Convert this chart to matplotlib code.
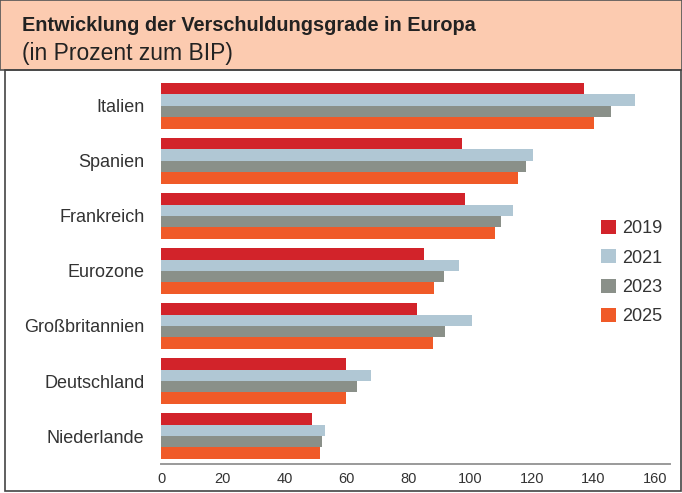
import matplotlib
matplotlib.use('Agg')
import matplotlib.pyplot as plt
from matplotlib.patches import Rectangle, Patch

# Data (debt in % of GDP)
countries = ['Italien', 'Spanien', 'Frankreich', 'Eurozone',
             'Großbritannien', 'Deutschland', 'Niederlande']
years = ['2019', '2021', '2023', '2025']
v2019 = [137, 97.5, 98.5, 85, 83, 60, 49]
v2021 = [153.5, 120.5, 114, 96.5, 100.5, 68, 53]
v2023 = [145.5, 118, 110, 91.5, 92, 63.5, 52]
v2025 = [140, 115.5, 108, 88.5, 88, 60, 51.5]
colors = ['#d2232a', '#b0c7d4', '#8a9089', '#f05a28']
xticks = [0, 20, 40, 60, 80, 100, 120, 140, 160]

font = 'Liberation Sans'
text_col = '#333333'

W, H = 682, 493
fig = plt.figure(figsize=(W / 100, H / 100), dpi=100)

# Title band and outer frame
fig.add_artist(Rectangle((0, 1 - 70 / H), 1, 70 / H, transform=fig.transFigure,
                         facecolor='#fccbb0', edgecolor='#555555', lw=1.2))
fig.add_artist(Rectangle((5 / W, 2 / H), (681 - 5) / W, (491 - 70) / H,
                         transform=fig.transFigure, facecolor='none',
                         edgecolor='#444444', lw=1.2))

fig.text(22 / W, 1 - 31 / H, 'Entwicklung der Verschuldungsgrade in Europa',
         family=font, weight='bold', fontsize=14.3, color='#222222', va='baseline')
fig.text(22 / W, 1 - 60 / H, '(in Prozent zum BIP)',
         family=font, fontsize=16.5, color='#222222', va='baseline')

# Plot area
ax = fig.add_axes([161 / W, (H - 464) / H, (670 - 161) / W, (464 - 72) / H])
h = 0.209
series = [v2019, v2021, v2023, v2025]
pos = list(range(len(countries)))
for j, vals in enumerate(series):
    ax.barh([p + (j - 1.5) * h for p in pos], vals, height=h,
            color=colors[j], label=years[j])

ax.set_xlim(0, (670 - 161) / 3.09)
ax.set_ylim(6.509, -0.618)
ax.set_xticks(xticks)
ax.set_yticks(pos)
ax.set_yticklabels(countries, family=font, fontsize=13, color=text_col)
ax.set_xticklabels([str(t) for t in xticks], family=font, fontsize=10.5,
                   color=text_col)
ax.tick_params(axis='y', length=0, pad=12)
ax.tick_params(axis='x', length=0, pad=6)
for s in ['top', 'right', 'left']:
    ax.spines[s].set_visible(False)
ax.spines['bottom'].set_color('#9a9a9a')
ax.spines['bottom'].set_linewidth(1.4)

handles = [Patch(facecolor=c, label=y) for c, y in zip(colors, years)]
fig.legend(handles=handles, loc='upper left', bbox_to_anchor=(601 / W, 1 - 220 / H),
           frameon=False, prop={'family': font, 'size': 13},
           labelcolor=text_col, handlelength=0.83, handleheight=0.83,
           handletextpad=0.33, labelspacing=0.66, borderpad=0, borderaxespad=0)

fig.savefig('out.png', dpi=100)
